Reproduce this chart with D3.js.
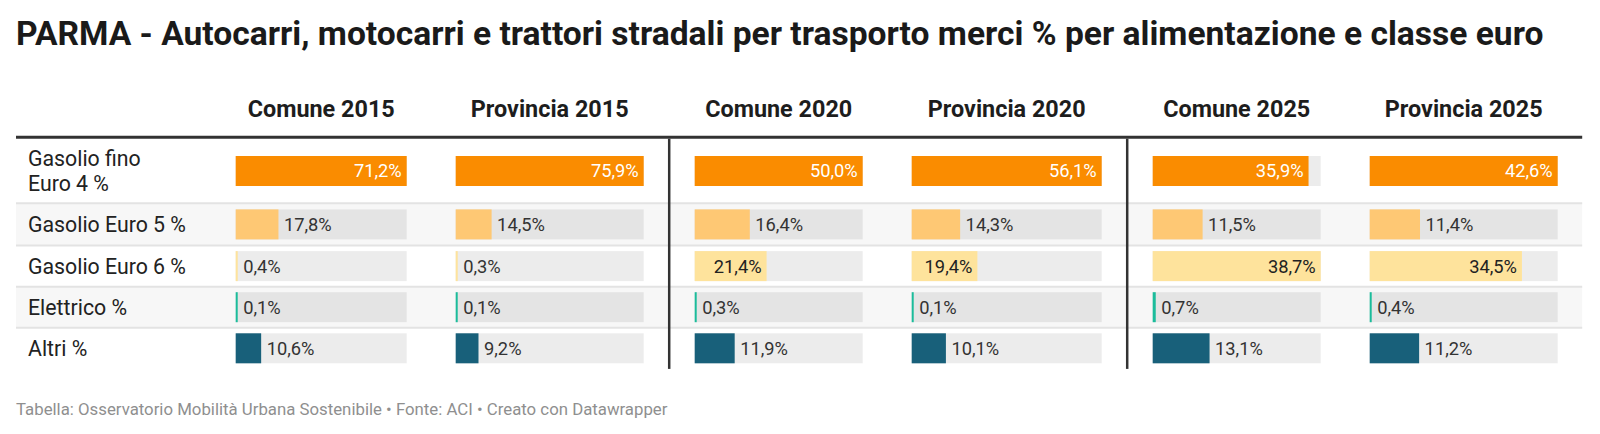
<!DOCTYPE html>
<html>
<head>
    <title></title>
    <meta charset="utf-8" />
    <script src="https://cdn.jsdelivr.net/npm/d3@7"></script>
    <style>
        body { margin: 0; background: #fff; }
        svg { font-family: Roboto, sans-serif; display: block; }
        .title { font-size: 33.6px; font-weight: 700; fill: #1a1a1a; }
        .head { font-size: 23.4px; font-weight: 700; fill: #1d1d1d; }
        .rowlabel { font-size: 21.3px; fill: #222; }
        .val { font-size: 18.3px; fill: #333; }
        .footer { font-size: 16.8px; fill: #8f8f8f; }
    </style>
</head>
<body>
    <script>
        // dati
        var categories = [['Gasolio fino', 'Euro 4 %'], ['Gasolio Euro 5 %'], ['Gasolio Euro 6 %'], ['Elettrico %'], ['Altri %']];
        var columns = ['Comune 2015', 'Provincia 2015', 'Comune 2020', 'Provincia 2020', 'Comune 2025', 'Provincia 2025'];
        var comune2015 = [71.2, 17.8, 0.4, 0.1, 10.6];
        var provincia2015 = [75.9, 14.5, 0.3, 0.1, 9.2];
        var comune2020 = [50.0, 16.4, 21.4, 0.3, 11.9];
        var provincia2020 = [56.1, 14.3, 19.4, 0.1, 10.1];
        var comune2025 = [35.9, 11.5, 38.7, 0.7, 13.1];
        var provincia2025 = [42.6, 11.4, 34.5, 0.4, 11.2];
        var values = [comune2015, provincia2015, comune2020, provincia2020, comune2025, provincia2025];

        var colors = ['#fa8c00', '#fec874', '#fee39c', '#1bbc9b', '#18607a'];
        var textInside = ['#fff', '#222', '#222', '#222', '#fff'];

        var W = 1600, H = 434;
        var svg = d3.select('body').append('svg').attr('width', W).attr('height', H);

        svg.append('text').attr('class', 'title').attr('x', 16).attr('y', 45)
            .text('PARMA - Autocarri, motocarri e trattori stradali per trasporto merci % per alimentazione e classe euro');

        // layout colonne
        var colW = [171, 188, 168, 190, 168, 188];
        var pad = 24.5;
        var cols = [];
        var cx = 211.2;
        colW.forEach(function (w, i) {
            cols.push({ x: cx + pad, w: w });
            cx += w + 2 * pad;
            if (i == 1 || i == 3) { cols[i].div = cx; cx += 2; }
        });
        var tableRight = cx;

        // layout righe
        var rowH = [64.6, 42.2, 41.2, 41, 41.2];
        var rows = [];
        var ry = 138.7;
        rowH.forEach(function (h) { rows.push({ y: ry, h: h }); ry += h; });
        var tableBottom = ry;

        // sfondi righe alternate
        svg.selectAll('.rowbg').data(rows).enter().append('rect')
            .attr('x', 16).attr('y', function (d) { return d.y; })
            .attr('width', tableRight - 16).attr('height', function (d) { return d.h; })
            .attr('fill', function (d, i) { return i % 2 ? '#f7f7f7' : '#fff'; });

        svg.selectAll('.sep').data(rows.slice(1)).enter().append('line')
            .attr('x1', 16).attr('x2', tableRight)
            .attr('y1', function (d) { return d.y; }).attr('y2', function (d) { return d.y; })
            .attr('stroke', '#e3e3e3').attr('stroke-width', 2);

        // intestazioni
        svg.selectAll('.head').data(columns).enter().append('text')
            .attr('class', 'head').attr('text-anchor', 'middle')
            .attr('x', function (d, i) { return cols[i].x + cols[i].w / 2; })
            .attr('y', 117.3)
            .text(function (d) { return d; });

        svg.append('line').attr('x1', 16).attr('x2', tableRight).attr('y1', 137.2).attr('y2', 137.2)
            .attr('stroke', '#333').attr('stroke-width', 3);

        // etichette righe
        categories.forEach(function (lines, r) {
            var mid = rows[r].y + rows[r].h / 2;
            var t = svg.append('text').attr('class', 'rowlabel').attr('x', 28)
                .attr('y', mid + 7.6 - (lines.length - 1) * 12.5);
            lines.forEach(function (l, k) {
                t.append('tspan').attr('x', 28).attr('dy', k ? 25 : 0).text(l);
            });
        });

        var fmt = function (v) { return d3.format('.1f')(v).replace('.', ',') + '%'; };

        // barre
        values.forEach(function (vals, c) {
            var col = cols[c];
            var x = d3.scaleLinear().domain([0, d3.max(vals)]).range([0, col.w]);
            var g = svg.append('g').attr('transform', 'translate(' + col.x + ',0)');

            g.selectAll('.bg').data(vals).enter().append('rect')
                .attr('x', 0).attr('y', function (d, i) { return rows[i].y + rows[i].h / 2 - 15; })
                .attr('width', col.w).attr('height', 30)
                .attr('fill', 'rgba(0,0,0,0.075)');

            g.selectAll('.bar').data(vals).enter().append('rect')
                .attr('x', 0).attr('y', function (d, i) { return rows[i].y + rows[i].h / 2 - 15; })
                .attr('width', function (d) { return Math.max(2, x(d)); }).attr('height', 30)
                .attr('fill', function (d, i) { return colors[i]; });

            g.selectAll('.val').data(vals).enter().append('text')
                .attr('class', 'val')
                .attr('y', function (d, i) { return rows[i].y + rows[i].h / 2 + 6.4; })
                .text(fmt)
                .each(function (d, i) {
                    var tw = this.getComputedTextLength();
                    var bw = Math.max(2, x(d));
                    var el = d3.select(this);
                    if (bw - tw - 10 > 0) {
                        el.attr('x', bw - 5).attr('text-anchor', 'end').style('fill', textInside[i]);
                    } else {
                        el.attr('x', bw + 5.5).attr('text-anchor', 'start');
                    }
                });

            if (col.div) {
                svg.append('line').attr('x1', col.div + 1).attr('x2', col.div + 1)
                    .attr('y1', 138.7).attr('y2', tableBottom)
                    .attr('stroke', '#333').attr('stroke-width', 2.5);
            }
        });

        svg.append('text').attr('class', 'footer').attr('x', 16).attr('y', 415)
            .text('Tabella: Osservatorio Mobilità Urbana Sostenibile • Fonte: ACI • Creato con Datawrapper');
    </script>
</body>
</html>
